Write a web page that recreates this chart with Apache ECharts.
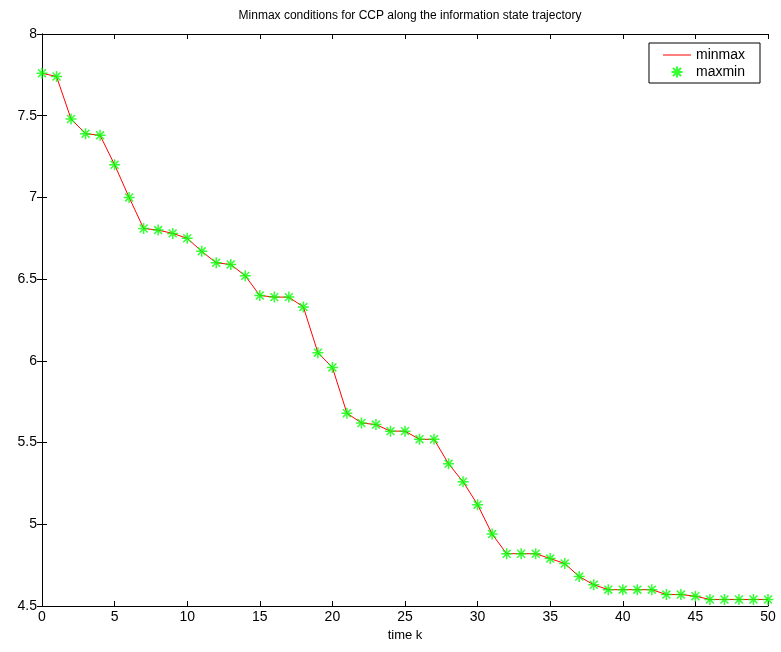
<!DOCTYPE html>
<html>
<head>
<meta charset="utf-8">
<script src="https://cdn.jsdelivr.net/npm/echarts@6/dist/echarts.min.js"></script>
<style>
  html, body { margin: 0; padding: 0; background: #fff; }
  #chart { width: 781px; height: 652px; }
</style>
</head>
<body>
<div id="chart"></div>
<script>
// time steps k = 0..50
const timeK = [
  0, 1, 2, 3, 4, 5, 6, 7, 8, 9, 10, 11, 12, 13, 14, 15, 16, 17, 18, 19, 20,
  21, 22, 23, 24, 25, 26, 27, 28, 29, 30, 31, 32, 33, 34, 35, 36, 37, 38, 39, 40,
  41, 42, 43, 44, 45, 46, 47, 48, 49, 50
]
const minmaxValues = [
  7.76, 7.74, 7.48, 7.39, 7.38, 7.20, 7.00, 6.81, 6.80, 6.78, 6.75,
  6.67, 6.60, 6.59, 6.52, 6.40, 6.39, 6.39, 6.33, 6.05, 5.96,
  5.68, 5.62, 5.61, 5.57, 5.57, 5.52, 5.52, 5.37, 5.26, 5.12,
  4.94, 4.82, 4.82, 4.82, 4.79, 4.76, 4.68, 4.63, 4.60, 4.60,
  4.60, 4.60, 4.57, 4.57, 4.56, 4.54, 4.54, 4.54, 4.54, 4.54
]
const maxminValues = minmaxValues.slice()

const star = 'path://M0,-1L0,1M-1,0L1,0M-0.72,-0.72L0.72,0.72M-0.72,0.72L0.72,-0.72'
// thin horizontal bar, with tiny corner specks so the icon box keeps its height
const lineIcon = 'path://M0,-0.5L28,-0.5L28,0.5L0,0.5Z' +
  'M0,-5.5L0.01,-5.5L0.01,-5.49ZM0,5.5L0.01,5.5L0.01,5.49Z'
const font = 'Liberation Sans, Arial, sans-serif'

const chart = echarts.init(document.getElementById('chart'))

const axisLine = { show: true, lineStyle: { color: '#000', width: 1 } }
const tick = { show: true, inside: true, length: 5, lineStyle: { color: '#000' } }

const option = {
  animation: false,
  title: {
    text: 'Minmax conditions for CCP along the information state trajectory',
    left: 405,
    textAlign: 'center',
    top: 5,
    textStyle: { fontFamily: font, fontSize: 12, fontWeight: 'normal', color: '#000' },
  },
  legend: {
    right: 21,
    top: 43,
    orient: 'vertical',
    backgroundColor: '#fff',
    borderColor: '#000',
    borderWidth: 1,
    borderRadius: 0,
    padding: [5, 15, 4, 14],
    itemGap: 3,
    itemWidth: 28,
    itemHeight: 11,
    textStyle: { fontFamily: font, fontSize: 14, color: '#000' },
    data: [
      { name: 'minmax', icon: lineIcon, itemStyle: { color: '#ff0000' } },
      'maxmin',
    ],
  },
  grid: { left: 42, right: 13, top: 34, bottom: 46 },
  xAxis: [
    {
      type: 'value',
      min: 0,
      max: 50,
      interval: 5,
      name: 'time k',
      nameLocation: 'middle',
      nameGap: 22,
      nameTextStyle: { fontFamily: font, fontSize: 13, color: '#000' },
      axisLine: axisLine,
      axisTick: tick,
      splitLine: { show: false },
      axisLabel: { fontFamily: font, fontSize: 14, color: '#000', margin: 4 },
    },
    {
      type: 'value', position: 'top', min: 0, max: 50, interval: 5,
      axisLine: axisLine, axisTick: tick, axisLabel: { show: false }, splitLine: { show: false },
    },
  ],
  yAxis: [
    {
      type: 'value',
      min: 4.5,
      max: 8,
      interval: 0.5,
      axisLine: axisLine,
      axisTick: tick,
      splitLine: { show: false },
      axisLabel: { fontFamily: font, fontSize: 14, color: '#000', margin: 5,
        formatter: v => String(v) },
    },
    {
      type: 'value', position: 'right', min: 4.5, max: 8, interval: 0.5,
      axisLine: axisLine, axisTick: tick, axisLabel: { show: false }, splitLine: { show: false },
    },
  ],
  series: [
    {
      name: 'minmax',
      type: 'line',
      data: timeK.map((k, i) => [k, minmaxValues[i]]),
      showSymbol: false,
      symbol: 'none',
      lineStyle: { color: '#ff0000', width: 1 },
      itemStyle: { color: '#ff0000' },
      z: 2,
    },
    {
      name: 'maxmin',
      type: 'scatter',
      data: timeK.map((k, i) => [k, maxminValues[i]]),
      symbol: star,
      symbolSize: 11,
      itemStyle: { color: 'rgba(0,0,0,0)', borderColor: '#00ff00', borderWidth: 1.5 },
      z: 3,
    },
  ],
}

chart.setOption(option)
</script>
</body>
</html>
